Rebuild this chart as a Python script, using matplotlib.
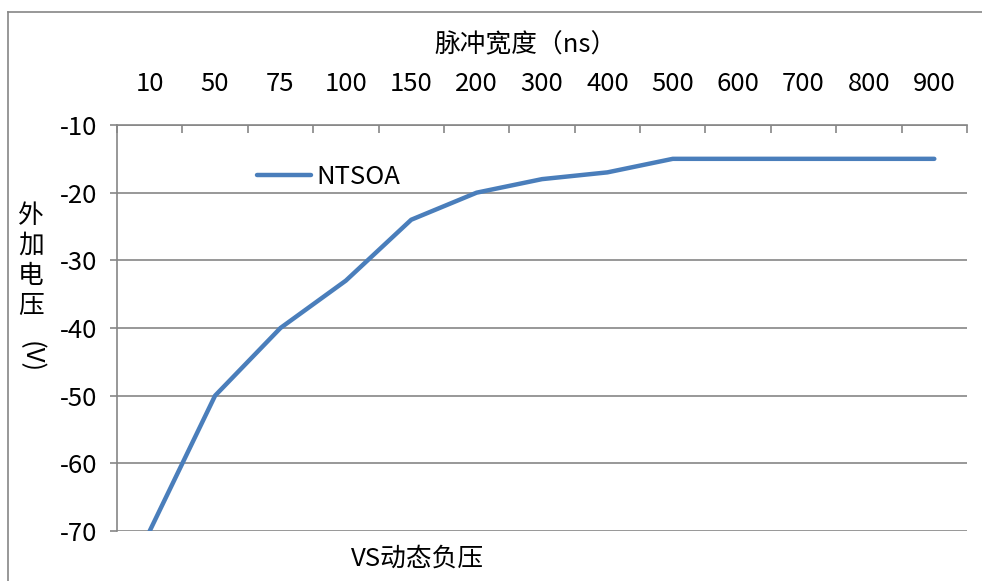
import numpy as np
import matplotlib
matplotlib.use('Agg')
import matplotlib.pyplot as plt
from matplotlib.lines import Line2D
from matplotlib.ticker import FixedLocator

plt.rcParams['font.family'] = ['Noto Sans CJK SC', 'DejaVu Sans']

# data
widths = ['10', '50', '75', '100', '150', '200', '300', '400', '500', '600', '700', '800', '900']
ntsoa = [-70, -50, -40, -33, -24, -20, -18, -17, -15, -15, -15, -15, -15]
y_ticks = [-70, -60, -50, -40, -30, -20, -10]

W, H = 982, 581
fig = plt.figure(figsize=(W / 100, H / 100), dpi=100)
ax = fig.add_axes([117 / W, (H - 531) / H, 850 / W, 406 / H])

grey = '#868686'
blue = '#4A7EBB'
fs = 18.5

x = np.arange(len(widths))
ax.plot(x, ntsoa, color=blue, lw=3.2, solid_capstyle='round', label='NTSOA', zorder=3)

ax.set_xlim(-0.5, len(widths) - 0.5)
ax.set_ylim(-70, -10)

# top category axis
ax.xaxis.tick_top()
ax.set_xticks(x)
ax.set_xticklabels(widths, fontsize=fs)
ax.xaxis.set_minor_locator(FixedLocator(np.arange(-0.5, len(widths), 1.0)))
ax.tick_params(axis='x', which='major', length=0, pad=20)
ax.tick_params(axis='x', which='minor', direction='in', length=6, width=1.2, color=grey)

ax.set_yticks(y_ticks)
ax.set_yticklabels([str(v) for v in y_ticks], fontsize=fs)
ax.tick_params(axis='y', direction='out', length=5, width=1.2, color=grey, pad=9)

ax.yaxis.grid(True, color=grey, lw=1.2)
ax.set_axisbelow(True)
for s in ['right', 'bottom']:
    ax.spines[s].set_visible(False)
for s in ['left', 'top']:
    ax.spines[s].set_color(grey)
    ax.spines[s].set_linewidth(1.2)

# axis titles
fig.text(526 / W, 1 - 45 / H, '脉冲宽度（ns）', fontsize=fs, ha='center', va='center')
fig.text(418 / W, 1 - 559 / H, 'VS动态负压', fontsize=fs, ha='center', va='center')
for i, ch in enumerate('外加电压'):
    fig.text(31 / W, 1 - (216 + i * 30) / H, ch, fontsize=fs, ha='center', va='center')
fig.text(31 / W, 1 - 357 / H, '(V)', fontsize=fs, ha='center', va='center', rotation=-90)

ax.legend(loc='center left', bbox_to_anchor=(257 / W, 1 - 177 / H), bbox_transform=fig.transFigure,
          frameon=False, fontsize=fs, handlelength=2.1, handletextpad=0.2, borderpad=0, borderaxespad=0)

# chart area border
fig.add_artist(Line2D([8 / W, 8 / W], [0, 1 - 12 / H], color=grey, lw=1.2))
fig.add_artist(Line2D([8 / W, 1], [1 - 12 / H, 1 - 12 / H], color=grey, lw=1.2))

fig.savefig('out.png', dpi=100)
